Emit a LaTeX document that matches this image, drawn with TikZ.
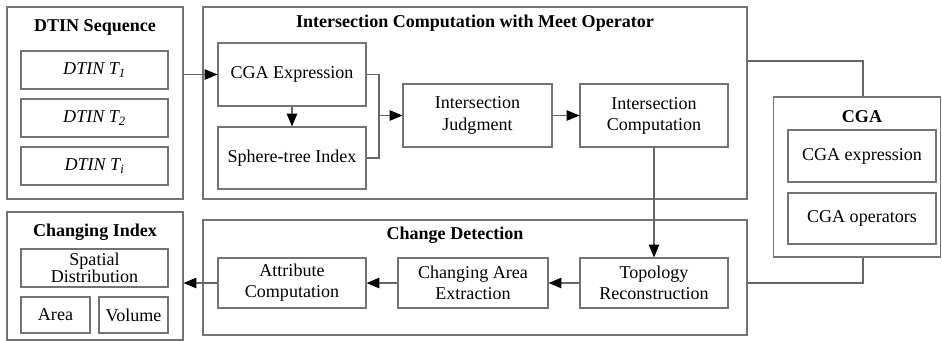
\documentclass[tikz,border=0pt]{standalone}
\usepackage{fontspec}
\setmainfont{Liberation Serif}
\usetikzlibrary{arrows.meta,calc}

\begin{document}
\begin{tikzpicture}[x=0.03cm,y=-0.03cm,line width=1pt,
        every node/.style={font=\fontsize{15.4}{18}\selectfont,align=center,inner sep=0pt},
        box/.style n args={2}{draw=black!55,minimum width=#1*0.03cm,minimum height=#2*0.03cm},
        title/.style={font=\fontsize{15.4}{18}\selectfont\bfseries},
        link/.style={draw=black!60},
        arr/.style={link,-{Triangle[length=11pt,width=9pt,color=black]}}]
        \useasboundingbox (0,0) rectangle (942,341);
        \fill[white] (0,0) rectangle (942,341);
        % DTIN sequence
        \node[box={176}{192}] (seq) at (95,103) {};
        \node[title] (seqt) at (95,27) {DTIN Sequence};
        \node[box={147}{38}] (t1) at (94.5,70) {\textit{DTIN T\textsubscript{1}}};
        \node[box={147}{38}] (t2) at (94.5,118) {\textit{DTIN T\textsubscript{2}}};
        \node[box={147}{38}] (ti) at (94.5,166) {\textit{DTIN T\textsubscript{i}}};
        % intersection with meet operator
        \node[box={544}{192}] (inter) at (475,103) {};
        \node[title] (intert) at (475,23) {Intersection Computation with Meet Operator};
        \node[box={148}{63}] (expr) at (292,74.5) {CGA Expression};
        \node[box={148}{62}] (sphere) at (292,158) {Sphere-tree Index};
        \node[box={149}{63}] (judge) at (477.5,115.5) {Intersection\\Judgment};
        \node[box={148}{63}] (comp) at (654,115.5) {Intersection\\Computation};
        % CGA
        \node[box={167}{160}] (cga) at (857,177) {};
        \node[title] (cgat) at (862,117) {CGA};
        \node[box={148}{52}] (cexp) at (862,156) {CGA expression};
        \node[box={148}{51}] (cop) at (862,218.5) {CGA operators};
        % change detection
        \node[box={544}{115}] (det) at (475,277.5) {};
        \node[title] (dett) at (455,235) {Change Detection};
        \node[box={148}{50}] (attr) at (292,283) {Attribute\\Computation};
        \node[box={150}{50}] (area) at (473,283) {Changing Area\\Extraction};
        \node[box={148}{50}] (topo) at (654,283) {Topology\\Reconstruction};
        % changing index
        \node[box={176}{128}] (idx) at (95,276) {};
        \node[title] (idxt) at (95,232) {Changing Index};
        \node[box={147}{38}] (spat) at (94.5,268) {Spatial\\[-3pt]Distribution};
        \node[box={69}{36}] (ar) at (55.5,315) {Area};
        \node[box={69}{36}] (vol) at (133.5,315) {Volume};

        \coordinate (join) at (379,115.5);
        \coordinate (ctop) at ($(cga.north)+(6,0)$);
        \coordinate (cbot) at ($(cga.south)+(6,0)$);
        \draw[arr] (expr.west -| seq.east) -- (expr.west);
        \draw[arr] (expr.south) -- (sphere.north);
        \draw[link] (expr.east) -| (join);
        \draw[link] (sphere.east) -| (join);
        \draw[arr] (join) -- (judge.west);
        \draw[arr] (judge.east) -- (comp.west);
        \draw[arr] (comp.south) -- (topo.north);
        \draw[link] (ctop) |- ($(inter.east)+(0,-42)$);
        \draw[link] (cbot) |- (topo.east -| det.east);
        \draw[arr] (topo.west) -- (area.east);
        \draw[arr] (area.west) -- (attr.east);
        \draw[arr] (attr.west) -- (attr.west -| idx.east);
\end{tikzpicture}
\end{document}
